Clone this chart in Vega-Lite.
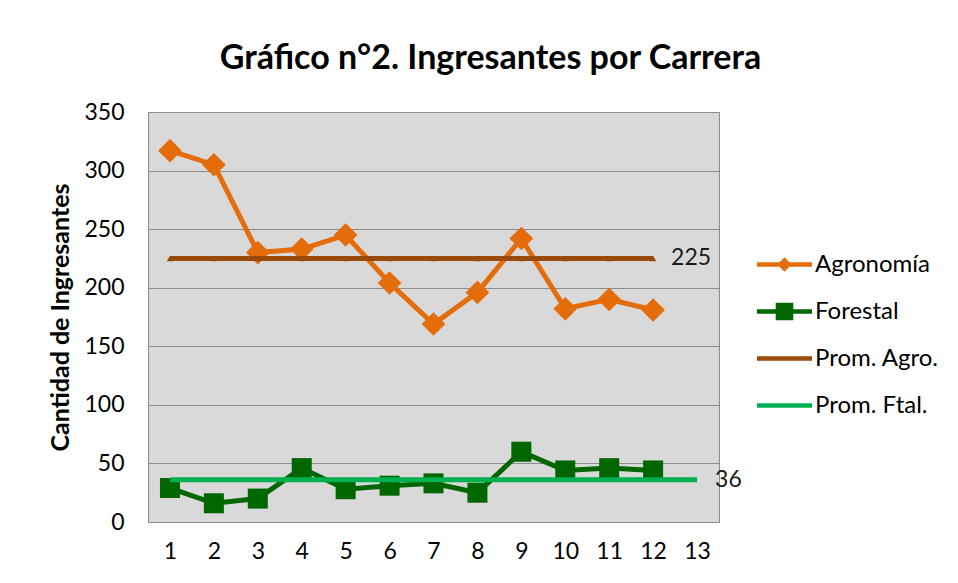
{
  "$schema": "https://vega.github.io/schema/vega-lite/v6.json",
  "width": 571,
  "height": 410,
  "autosize": {"type": "none"},
  "padding": {"left": 148, "top": 112, "right": 239, "bottom": 61},
  "background": "white",
  "title": {
    "text": "Gráfico n°2. Ingresantes por Carrera",
    "anchor": "middle",
    "font": "Lato",
    "fontSize": 34,
    "fontWeight": "bold",
    "color": "black",
    "offset": 25,
    "dx": 57
  },
  "config": {
    "view": {"fill": "#d9d9d9", "stroke": "#8c8c8c", "strokeWidth": 1},
    "font": "Lato"
  },
  "data": {
    "values": [
      {"n": 1, "serie": "Agronomía", "v": 317},
      {"n": 2, "serie": "Agronomía", "v": 305},
      {"n": 3, "serie": "Agronomía", "v": 230},
      {"n": 4, "serie": "Agronomía", "v": 233},
      {"n": 5, "serie": "Agronomía", "v": 245},
      {"n": 6, "serie": "Agronomía", "v": 204},
      {"n": 7, "serie": "Agronomía", "v": 169},
      {"n": 8, "serie": "Agronomía", "v": 196},
      {"n": 9, "serie": "Agronomía", "v": 242},
      {"n": 10, "serie": "Agronomía", "v": 182},
      {"n": 11, "serie": "Agronomía", "v": 190},
      {"n": 12, "serie": "Agronomía", "v": 181},
      {"n": 1, "serie": "Forestal", "v": 29},
      {"n": 2, "serie": "Forestal", "v": 16},
      {"n": 3, "serie": "Forestal", "v": 20},
      {"n": 4, "serie": "Forestal", "v": 46},
      {"n": 5, "serie": "Forestal", "v": 28},
      {"n": 6, "serie": "Forestal", "v": 31},
      {"n": 7, "serie": "Forestal", "v": 33},
      {"n": 8, "serie": "Forestal", "v": 25},
      {"n": 9, "serie": "Forestal", "v": 60},
      {"n": 10, "serie": "Forestal", "v": 44},
      {"n": 11, "serie": "Forestal", "v": 46},
      {"n": 12, "serie": "Forestal", "v": 44},
      {"n": 1, "serie": "Prom. Agro.", "v": 225},
      {"n": 2, "serie": "Prom. Agro.", "v": 225},
      {"n": 3, "serie": "Prom. Agro.", "v": 225},
      {"n": 4, "serie": "Prom. Agro.", "v": 225},
      {"n": 5, "serie": "Prom. Agro.", "v": 225},
      {"n": 6, "serie": "Prom. Agro.", "v": 225},
      {"n": 7, "serie": "Prom. Agro.", "v": 225},
      {"n": 8, "serie": "Prom. Agro.", "v": 225},
      {"n": 9, "serie": "Prom. Agro.", "v": 225},
      {"n": 10, "serie": "Prom. Agro.", "v": 225},
      {"n": 11, "serie": "Prom. Agro.", "v": 225},
      {"n": 12, "serie": "Prom. Agro.", "v": 225, "etiqueta": "225"},
      {"n": 1, "serie": "Prom. Ftal.", "v": 36},
      {"n": 2, "serie": "Prom. Ftal.", "v": 36},
      {"n": 3, "serie": "Prom. Ftal.", "v": 36},
      {"n": 4, "serie": "Prom. Ftal.", "v": 36},
      {"n": 5, "serie": "Prom. Ftal.", "v": 36},
      {"n": 6, "serie": "Prom. Ftal.", "v": 36},
      {"n": 7, "serie": "Prom. Ftal.", "v": 36},
      {"n": 8, "serie": "Prom. Ftal.", "v": 36},
      {"n": 9, "serie": "Prom. Ftal.", "v": 36},
      {"n": 10, "serie": "Prom. Ftal.", "v": 36},
      {"n": 11, "serie": "Prom. Ftal.", "v": 36},
      {"n": 12, "serie": "Prom. Ftal.", "v": 36},
      {"n": 13, "serie": "Prom. Ftal.", "v": 36, "etiqueta": "36"}
    ]
  },
  "encoding": {
    "x": {
      "field": "n",
      "type": "ordinal",
      "scale": {"domain": [1, 2, 3, 4, 5, 6, 7, 8, 9, 10, 11, 12, 13]},
      "axis": {
        "title": null,
        "labelAngle": 0,
        "ticks": false,
        "domain": false,
        "grid": false,
        "labelFont": "Lato",
        "labelFontSize": 23,
        "labelColor": "black",
        "labelPadding": 18
      }
    },
    "y": {
      "field": "v",
      "type": "quantitative",
      "scale": {"domain": [0, 350], "nice": false},
      "axis": {
        "title": "Cantidad de Ingresantes",
        "values": [0, 50, 100, 150, 200, 250, 300, 350],
        "ticks": false,
        "domain": false,
        "grid": true,
        "gridColor": "#8c8c8c",
        "gridWidth": 1,
        "labelFont": "Lato",
        "labelFontSize": 23,
        "labelColor": "black",
        "labelPadding": 24,
        "titleFont": "Lato",
        "titleFontSize": 25,
        "titleFontWeight": "bold",
        "titleColor": "black",
        "titlePadding": 10
      }
    },
    "color": {
      "field": "serie",
      "type": "nominal",
      "scale": {
        "domain": ["Agronomía", "Forestal", "Prom. Agro.", "Prom. Ftal."],
        "range": ["#e46c0a", "#006600", "#9a4a0a", "#00b050"]
      },
      "legend": {
        "title": null,
        "orient": "none",
        "legendX": 609,
        "legendY": 125,
        "labelFont": "Lato",
        "labelFontSize": 24,
        "labelColor": "black",
        "labelOffset": 3,
        "symbolSize": 3025,
        "symbolStrokeWidth": 0,
        "symbolOpacity": 1,
        "rowPadding": 7
      }
    }
  },
  "layer": [
    {
      "transform": [{"filter": "datum.n < 0"}],
      "mark": {"type": "point", "filled": true},
      "encoding": {
        "shape": {
          "field": "serie",
          "type": "nominal",
          "scale": {
            "domain": ["Agronomía", "Forestal", "Prom. Agro.", "Prom. Ftal."],
            "range": [
              "M-1,-0.08H1V0.08H-1Z M0,-0.26L0.26,0L0,0.26L-0.26,0Z",
              "M-1,-0.08H1V0.08H-1Z M-0.32,-0.32H0.32V0.32H-0.32Z",
              "M-1,-0.08H1V0.08H-1Z",
              "M-1,-0.08H1V0.08H-1Z"
            ]
          },
          "legend": {
            "title": null,
            "orient": "none",
            "legendX": 609,
            "legendY": 125,
            "labelFont": "Lato",
            "labelFontSize": 24,
            "labelColor": "black",
            "labelOffset": 3,
            "symbolSize": 3025,
            "symbolStrokeWidth": 0,
            "symbolOpacity": 1,
            "rowPadding": 7
          }
        }
      }
    },
    {
      "transform": [{"filter": "datum.serie == 'Agronomía'"}],
      "mark": {"type": "line", "strokeWidth": 5}
    },
    {
      "transform": [{"filter": "datum.serie == 'Agronomía'"}],
      "mark": {"type": "point", "shape": "diamond", "filled": true, "size": 560, "opacity": 1}
    },
    {
      "transform": [{"filter": "datum.serie == 'Forestal'"}],
      "mark": {"type": "line", "strokeWidth": 5}
    },
    {
      "transform": [{"filter": "datum.serie == 'Forestal'"}],
      "mark": {"type": "point", "shape": "square", "filled": true, "size": 400, "opacity": 1}
    },
    {
      "transform": [{"filter": "datum.serie == 'Prom. Agro.'"}],
      "mark": {"type": "line", "strokeWidth": 5}
    },
    {
      "transform": [{"filter": "datum.serie == 'Prom. Agro.'"}],
      "mark": {"type": "point", "shape": "triangle-up", "filled": true, "size": 40, "opacity": 1, "color": "#7a3a05"}
    },
    {
      "transform": [{"filter": "datum.serie == 'Prom. Ftal.'"}],
      "mark": {"type": "line", "strokeWidth": 5}
    },
    {
      "transform": [{"filter": "isValid(datum.etiqueta)"}],
      "mark": {"type": "text", "align": "left", "baseline": "middle", "dx": 18, "font": "Lato", "fontSize": 23, "color": "#1a1a1a"},
      "encoding": {
        "text": {"field": "etiqueta"},
        "color": {"value": "#1a1a1a"}
      }
    }
  ]
}
